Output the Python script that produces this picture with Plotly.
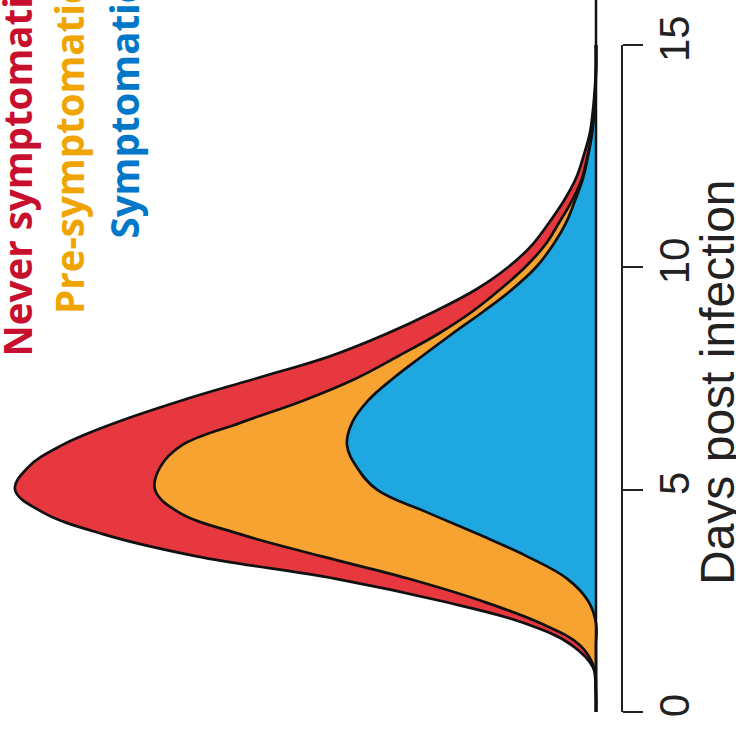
import plotly.graph_objects as go

days = [0, 0.5, 1, 1.5, 2, 2.5, 3, 3.5, 4, 4.5, 5, 5.5, 6, 6.5, 7, 7.5, 8,
        8.5, 9, 9.5, 10, 10.5, 11, 11.5, 12, 12.5, 13, 13.5, 14, 14.5, 15]

symptomatic = [0, 0, 0, 0, 0, 8, 29, 69, 118, 170, 219, 239, 249, 244, 228, 203, 174,
               144, 113, 84, 60, 43, 30, 21, 13, 8, 4, 2, 0.5, 0, 0]
pre_symptomatic = [0, 0, 2, 16, 56, 107, 159, 205, 238, 248, 222, 197, 165, 112, 65, 37, 24,
                   14, 11, 12, 11, 8, 7, 3, 1, 0.5, 0.3, 0.2, 0.2, 0, 0]
never_symptomatic = [0, 0.5, 1, 8, 16, 41, 73, 125, 137, 136, 140, 132, 120, 125, 122, 100, 68,
                     52, 38, 24, 17, 13, 10, 8, 6, 4, 2, 1, 0.5, 0, 0]

series_names = ["Symptomatic", "Pre-symptomatic", "Never symptomatic"]
fill_colors = ["#1EA7E1", "#F6A332", "#E8383F"]
text_colors = ["#0077C8", "#F0A400", "#C8102E"]
day_ticks = [0, 5, 10, 15]

fig = go.Figure()
for name, vals, col in zip(series_names,
                           [symptomatic, pre_symptomatic, never_symptomatic],
                           fill_colors):
    fig.add_trace(go.Scatter(
        x=vals, y=days, name=name, orientation="h", stackgroup="one",
        mode="lines", line=dict(color="#111111", width=2.7, shape="spline", smoothing=1.1),
        fillcolor=col, showlegend=False, hoverinfo="skip"))

# baseline
fig.add_shape(type="line", xref="x", yref="y", x0=0, x1=0, y0=0, y1=16.1,
              line=dict(color="#111111", width=2.5))
# R-style axis line from 0 to 15
fig.add_shape(type="line", xref="paper", yref="y", x0=1, x1=1,
              y0=day_ticks[0], y1=day_ticks[-1], line=dict(color="#222222", width=2))

# legend labels (rotated)
label_bottoms = [241, 316, 359]
label_x = [123, 69, 16]
for name, col, yb, xc in zip(series_names, text_colors, label_bottoms, label_x):
    fig.add_annotation(text=name, xref="paper", yref="paper",
                       x=xc / 622, y=1 - yb / 734, xanchor="center", yanchor="bottom",
                       textangle=-90, showarrow=False,
                       font=dict(family="Open Sans", size=38.5, color=col, weight="bold"))

fig.add_annotation(text="Days post infection", xref="paper", yref="paper",
                   x=717 / 622, y=1 - 382 / 734, xanchor="center", yanchor="middle",
                   textangle=-90, showarrow=False,
                   font=dict(family="Liberation Sans", size=48, color="#222222"))

fig.update_layout(
    width=736, height=734,
    margin=dict(l=0, r=114, t=0, b=0),
    paper_bgcolor="white", plot_bgcolor="white",
    xaxis=dict(range=[596, -26], visible=False),
    yaxis=dict(range=[-0.495, 16.01], side="right", showgrid=False, zeroline=False,
               showline=False, ticks="outside", ticklen=20, tickwidth=2,
               tickcolor="#222222", tickvals=day_ticks, tickangle=-90,
               ticklabelstandoff=-4,
               tickfont=dict(family="Liberation Sans", size=42, color="#222222")),
)

fig.write_html("out.html",
               config={"displayModeBar": False},
               post_script="document.body.style.margin='0';document.body.style.overflow='hidden';")
